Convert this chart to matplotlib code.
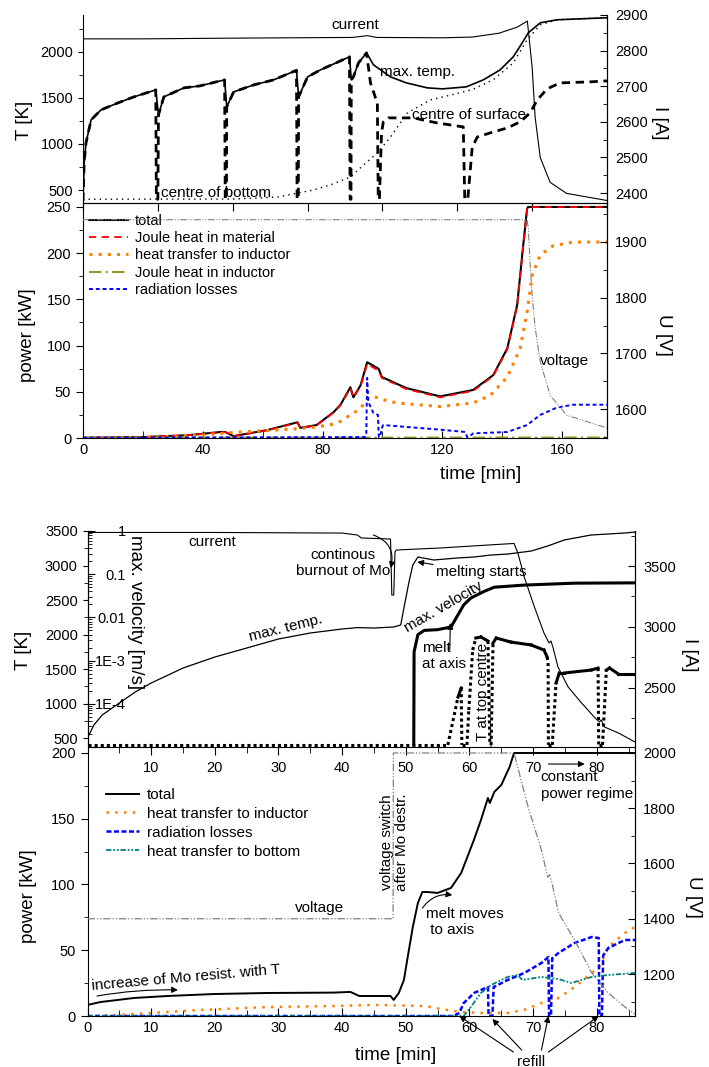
import matplotlib
matplotlib.use("Agg")
import matplotlib.pyplot as plt
import matplotlib.ticker as mticker
import numpy as np

plt.rcParams['font.family'] = ['Liberation Sans', 'DejaVu Sans']
plt.rcParams['font.size'] = 11

W, H = 709, 1067

# ---------------- upper figure: temperatures / current ----------------
t_cur1 = [0, 20, 50, 90, 95, 98, 120, 130, 139, 145, 148.4, 150, 151, 152.7, 156, 161.5, 175]
i_cur1 = [2833, 2833, 2835, 2837, 2842, 2837, 2836, 2838, 2849, 2866, 2883, 2753, 2613, 2500, 2430, 2399, 2379]

t_max1 = [0, 0.4, 1, 2.7, 6, 11.6, 17, 24.3, 25.2, 27, 33.7, 39, 47.3, 48, 50.3, 57, 63.7,
          71.3, 72, 75, 79.3, 89, 89.6, 90.3, 92, 94.7, 97, 102.7, 108, 115, 120, 128,
          133.7, 139.3, 143.7, 146.7, 148.7, 152.7, 158.3, 175]
T_max1 = [380, 800, 1011, 1261, 1370, 1445, 1511, 1587, 1315, 1511, 1609, 1630, 1696, 1402, 1565, 1641, 1696,
          1800, 1511, 1728, 1804, 1946, 1696, 1728, 1880, 1989, 1859, 1728, 1663, 1609, 1598, 1620,
          1696, 1804, 1946, 2098, 2206, 2315, 2348, 2370]

t_surf = [0, 0.4, 1, 2.7, 6, 11.6, 17, 24.3, 24.5, 25.0, 25.2, 27, 33.7, 39, 47.3, 47.5, 47.9, 48,
          50.3, 57, 63.7, 71.3, 71.5, 71.9, 72, 75, 79.3, 89, 89.2, 89.5, 89.6, 90.3, 92, 94.7,
          96, 97.7, 98.3, 98.6, 99.0, 99.7, 100.3, 102, 110.3, 118.3, 127, 127.5, 128.5, 130,
          131.7, 136, 141.7, 146, 149.3, 151.7, 155, 159.3, 169.3, 175]
T_surf = [380, 800, 1011, 1261, 1370, 1445, 1511, 1587, 400, 400, 1315, 1511, 1609, 1630, 1696, 400, 400, 1402,
          1565, 1641, 1696, 1800, 400, 400, 1511, 1728, 1804, 1946, 400, 400, 1696, 1728, 1880, 1989,
          1663, 1500, 1457, 400, 400, 1120, 1240, 1283, 1283, 1228, 1185, 400, 400, 967,
          1076, 1120, 1174, 1240, 1337, 1478, 1598, 1663, 1674, 1685]

t_bot = [0, 50, 60, 65, 71.7, 77, 83, 89.3, 93.7, 98.3, 102.7, 108.3, 116, 122.7, 130, 137,
         143.7, 148.3, 152.7, 158.3, 175]
T_bot = [400, 402, 415, 424, 467, 500, 560, 641, 772, 902, 1076, 1337, 1478, 1530, 1590, 1696,
         1880, 2130, 2293, 2348, 2372]

# ---------------- upper figure: power / voltage ----------------
t_tot1 = [0, 20, 35, 46, 47.5, 50.3, 61.6, 71.6, 72.6, 78, 83.7, 86, 89.3, 90.3, 92.7, 94.9,
          98.7, 99.8, 108, 119.3, 130.3, 137, 141.7, 145, 147, 148.3, 148.6, 175]
P_tot1 = [0.2, 1, 3, 6.5, 6.5, 2, 8.6, 17, 11, 14, 28, 36, 55, 44, 57, 82,
          75, 66, 54, 45, 52, 68, 97, 144, 208, 248, 250, 250]
P_joule1 = [0.2, 1, 3, 6.3, 6.3, 2, 8.4, 16.5, 10.8, 13.8, 27.5, 35.5, 54, 43.5, 56, 80,
            73, 65, 53, 44, 51, 67, 96, 143, 207, 247, 250, 250]

t_ind1 = [0, 20, 39, 50, 71.6, 78, 83.7, 86, 89.3, 92.7, 95, 97, 102.7, 108, 119.3, 130.3,
          136, 141.7, 146, 148.3, 150, 152.7, 157, 163.7, 175]
P_ind1 = [0, 0.5, 3, 6, 10, 12, 15, 18, 25, 32, 43, 45, 39, 37, 34, 38,
          46, 66, 97, 136, 176, 198, 208, 212, 212]

t_jind1 = [0, 100, 175]
P_jind1 = [0.3, 0.4, 0.5]

t_rad1 = [0, 94.3, 94.6, 94.9, 95.3, 97, 98.5, 98.8, 99.2, 99.8, 100.3, 108, 119.3, 127.7,
          128.3, 128.8, 130.3, 141.7, 148.3, 152.7, 158.3, 163.7, 175]
P_rad1 = [0.3, 1, 3, 65, 39, 27, 25, 1, 1, 11, 14, 12, 9, 6.5,
          1, 1, 5, 6.5, 14, 25, 33, 36, 36]

t_volt1 = [0, 148.3, 148.7, 149.3, 150, 151, 152.7, 156, 161.5, 175]
U_volt1 = [1940, 1940, 1925, 1864, 1805, 1746, 1685, 1625, 1589, 1566]

# ---------------- lower figure: temperatures / current / velocity ----------------
t_cur2 = [0, 20, 40, 42.4, 43, 47.6, 47.8, 48.1, 48.3, 48.5, 55.5, 67, 67.6, 68.6, 70.2,
          71.7, 72.5, 72.8, 73.1, 73.9, 75.5, 77.6, 79.6, 80.4, 80.7, 81.2, 83.4, 86]
I_cur2 = [3775, 3775, 3770, 3754, 3730, 3721, 3262, 3262, 3615, 3631, 3648, 3685, 3607, 3410, 3164,
          2951, 2869, 2885, 2836, 2672, 2508, 2377, 2262, 2221, 2238, 2180, 2131, 2057]

t_max2 = [0, 1, 2.3, 5, 7.5, 10, 15, 20, 25, 30, 35, 40, 42.4, 45, 48.1, 49.2, 49.7, 50.5,
          51.1, 51.9, 54.4, 58.1, 60.7, 63.4, 66, 69.7, 72.3, 74.9, 79.1, 84.4, 86]
T_max2 = [500, 688, 833, 1007, 1167, 1297, 1514, 1674, 1804, 1935, 2022, 2080, 2100, 2094, 2109, 2138, 2384, 2761,
          3007, 3123, 3080, 3109, 3123, 3152, 3166, 3210, 3283, 3370, 3442, 3471, 3485]

t_vel = [51.25, 51.3, 51.9, 52.9, 55, 57.1, 58.2, 59.1, 60.2, 62.3, 63.9, 68.6, 76.5, 86]
v_vel = [1.2e-5, 1.6e-3, 4.0e-3, 5.0e-3, 5.2e-3, 6.0e-3, 1.15e-2, 1.95e-2, 2.8e-2, 4.0e-2, 5.0e-2,
         5.6e-2, 6.2e-2, 6.3e-2]

t_top = [0, 56.6, 58.2, 58.7, 58.8, 59.6, 59.9, 60.5, 61.0, 61.8, 62.9, 63.2, 63.4, 63.7, 64.2,
         66.5, 69.7, 71.7, 72.2, 72.35, 72.4, 73.0, 73.6, 74.1, 74.9, 79.1, 80.2, 80.3, 80.9,
         81.5, 82.0, 83.4, 86]
T_top = [400, 400, 1094, 1225, 400, 400, 906, 1775, 1949, 1964, 1906, 400, 400, 1877, 1949,
         1891, 1848, 1775, 1674, 1587, 400, 400, 1297, 1442, 1442, 1485, 1514, 400, 400,
         1485, 1514, 1427, 1427]

# ---------------- lower figure: power / voltage ----------------
t_tot2 = [0, 2, 7.3, 12.5, 19.8, 28.3, 38.7, 41.3, 42.7, 47.6, 48.1, 48.9, 49.7, 50.3, 51.1, 51.9,
          52.6, 53.4, 55, 57.1, 58.7, 60.7, 61.8, 62.9, 63.2, 63.9, 65, 66.3, 67, 86]
P_tot2 = [8.4, 10.6, 13.7, 15.2, 16.7, 17.5, 17.8, 18.3, 15.2, 15.2, 12.2, 17.5, 27.4, 44.9, 67.7, 86,
          94.3, 94.3, 93.6, 97.4, 108.8, 133.9, 149, 165.8, 162, 170.4, 175.7, 189.4, 200, 200]

t_ind2 = [0, 3, 7.3, 17.7, 28.3, 38.7, 45, 53, 55.5, 58.7, 61.8, 66, 68.6, 71.3, 74, 76.5,
          79.2, 80.4, 81.8, 84.4, 86]
P_ind2 = [0, 0.3, 1.5, 4.6, 6.8, 7.6, 8.4, 7.6, 5.3, 3, 2.3, 2.3, 4.6, 9.9, 13.7, 22,
          32.7, 37.3, 52.5, 63.1, 67.7]

t_rad2 = [0, 57.5, 58.4, 59.1, 60, 60.7, 62.9, 63.0, 63.6, 63.8, 66, 68.6, 71.3, 72.4, 72.5,
          72.8, 73.0, 74, 76.5, 79.2, 80.3, 80.4, 80.8, 81.0, 81.8, 84.4, 86]
P_rad2 = [0, 0, 2.3, 9.9, 14, 17.5, 22, 0, 0, 22, 27.4, 32.7, 40.3, 44.9, 0,
          0, 44, 48, 55.5, 60.1, 59.3, 0, 0, 46, 51.7, 57.8, 57.8]

t_btm2 = [0, 59.1, 60.2, 61.8, 63.4, 66, 67.6, 68.3, 71.3, 74, 76, 79.2, 81.8, 86]
P_btm2 = [0, 0, 6.8, 17.5, 23.6, 29.7, 31.2, 27.4, 29.7, 28.1, 25.1, 29.7, 31.2, 32.7]

t_volt2 = [0, 48, 48.05, 67, 69.2, 71.3, 72.3, 72.6, 72.9, 74, 76.5, 79.2, 81.8, 84.4, 86]
U_volt2 = [1400, 1400, 2000, 2000, 1805, 1649, 1550, 1560, 1535, 1421, 1323, 1204, 1131, 1081, 1055]

ORANGE = "#ff8000"
OLIVE = "#999922"
TEAL = "#008080"
GREY = "#808080"
BLUE = "#0000ff"
RED = "#ff0000"


def box(left, top, right, bottom):
    return [left / W, 1 - bottom / H, (right - left) / W, (bottom - top) / H]


def left_ticks(ax, major, minor):
    ax.yaxis.set_major_locator(mticker.MultipleLocator(major))
    ax.yaxis.set_minor_locator(mticker.MultipleLocator(minor))
    ax.tick_params(axis='y', which='both', direction='out', labelsize=10.5)
    ax.tick_params(axis='y', which='major', length=5)
    ax.tick_params(axis='y', which='minor', length=3)


def right_ticks(ax, major, minor):
    ax.yaxis.set_major_locator(mticker.MultipleLocator(major))
    ax.yaxis.set_minor_locator(mticker.MultipleLocator(minor))
    ax.tick_params(axis='y', which='both', direction='in', labelsize=10.5, pad=6)
    ax.tick_params(axis='y', which='major', length=5)
    ax.tick_params(axis='y', which='minor', length=3)
    for s in ('top', 'bottom', 'left'):
        ax.spines[s].set_visible(False)


def ylab(ax, text, x, y, rot=90):
    ax.set_ylabel(text, fontsize=13.5, rotation=rot, ha='center', va='center')
    ax.yaxis.set_label_coords(x, y)


arrow = dict(arrowstyle='-|>', color='k', lw=0.8, mutation_scale=9, shrinkA=0, shrinkB=0)

fig = plt.figure(figsize=(W / 100, H / 100), dpi=100)

# ======== panel 1 ========
ax1 = fig.add_axes(box(83, 15, 607, 203))
ax1.set_xlim(0, 175)
ax1.set_ylim(359, 2400)
ax1.plot(t_max1, T_max1, color='k', lw=1.2)
ax1.plot(t_surf, T_surf, color='k', lw=2.0, ls=(0, (3, 2)))
ax1.plot(t_bot, T_bot, color='k', lw=1.0, ls=(0, (1, 3)))
ax1.set_yticks([500, 1000, 1500, 2000])
ax1.yaxis.set_minor_locator(mticker.MultipleLocator(250))
ax1.tick_params(axis='y', which='both', direction='out', labelsize=10.5)
ax1.tick_params(axis='y', which='minor', length=3)
ax1.xaxis.set_major_locator(mticker.MultipleLocator(25))
ax1.tick_params(axis='x', direction='out', length=6, labelbottom=False)
ax1.spines['top'].set_visible(False)
ylab(ax1, 'T [K]', -0.111, 0.441)
ax1.text(90.8, 2293, 'current', ha='center', va='center')
ax1.text(99.2, 1783, 'max. temp.', ha='left', va='center')
ax1.text(109.9, 1315, 'centre of surface', ha='left', va='center')
ax1.text(26.1, 467, 'centre of bottom', ha='left', va='center')

ax1r = ax1.twinx()
ax1r.plot(t_cur1, i_cur1, color='k', lw=0.8)
ax1r.set_ylim(2372, 2900)
right_ticks(ax1r, 100, 50)
ylab(ax1r, 'I [A]', 1.101, 0.426, rot=-90)

# ======== panel 2 ========
ax2 = fig.add_axes(box(83, 203, 607, 438))
ax2.set_facecolor('none')
ax2.set_xlim(0, 175)
ax2.set_ylim(0, 254.3)
ax2.plot(t_tot1, P_tot1, color='k', lw=1.5, label='total')
ax2.plot(t_tot1, P_joule1, color=RED, lw=1.3, ls=(0, (4, 3)), label='Joule heat in material')
ax2.plot(t_ind1, P_ind1, color=ORANGE, lw=2.2, ls=(0, (1, 2)), label='heat transfer to inductor')
ax2.plot(t_jind1, P_jind1, color=OLIVE, lw=1.5, ls=(0, (6, 2, 1, 2)), label='Joule heat in inductor')
ax2.plot(t_rad1, P_rad1, color=BLUE, lw=1.4, ls=(0, (2, 1.5)), label='radiation losses')
left_ticks(ax2, 50, 25)
ax2.xaxis.set_major_locator(mticker.MultipleLocator(40))
ax2.xaxis.set_minor_locator(mticker.MultipleLocator(20))
ax2.tick_params(axis='x', which='both', direction='in', length=5, labelsize=10.5)
ylab(ax2, 'power [kW]', -0.105, 0.438)
ax2.set_xlabel('time [min]', fontsize=13.5, va='center')
ax2.xaxis.set_label_coords(0.758, -0.157)
ax2.legend(loc='upper left', bbox_to_anchor=(0.0115, 0.953), frameon=False, fontsize=10.5,
           borderpad=0, borderaxespad=0, handlelength=2.7, handletextpad=0.45, labelspacing=0.22)
ax2.text(152.6, 83.3, 'voltage', ha='left', va='center')

ax2r = ax2.twinx()
ax2r.plot(t_volt1, U_volt1, color=GREY, lw=0.8, ls=(0, (6, 1.5, 1, 1.5, 1, 1.5)))
ax2r.set_ylim(1548, 1970)
right_ticks(ax2r, 100, 50)
ylab(ax2r, 'U [V]', 1.107, 0.438, rot=-90)

# ======== panel 3 ========
ax3 = fig.add_axes(box(87.5, 531, 635, 747))
ax3.set_xlim(0, 86)
ax3.set_ylim(370, 3500)
ax3.plot(t_max2, T_max2, color='k', lw=0.9)
t_arr = np.array(t_top)
T_arr = np.array(T_top)
for k in range(len(t_arr) - 1):
    slope = abs(T_arr[k + 1] - T_arr[k]) / (t_arr[k + 1] - t_arr[k])
    flat = slope < 300 and min(T_arr[k], T_arr[k + 1]) > 1000
    ax3.plot(t_arr[k:k + 2], T_arr[k:k + 2], color='k', lw=2.2,
             ls='-' if flat else (0, (1, 1)))
ax3.set_yticks([500, 1000, 1500, 2000, 2500, 3000, 3500])
ax3.yaxis.set_minor_locator(mticker.MultipleLocator(250))
ax3.tick_params(axis='y', which='both', direction='out', labelsize=10.5)
ax3.tick_params(axis='y', which='minor', length=3)
ax3.set_xticks(np.arange(10, 90, 10))
ax3.xaxis.set_minor_locator(mticker.MultipleLocator(5))
ax3.tick_params(axis='x', which='both', direction='out', labelsize=10.5, pad=4)
ax3.tick_params(axis='x', which='major', length=6)
ax3.tick_params(axis='x', which='minor', length=4)
ax3.spines['top'].set_visible(False)
ylab(ax3, 'T [K]', -0.116, 0.449)
ax3.text(19.6, 3341, 'current', ha='center', va='center')
ax3.text(40.2, 3036, 'continous\nburnout of Mo', ha='center', va='center', linespacing=1.1)
ax3.annotate('', xy=(47.6, 2964), xytext=(44.9, 3442),
             arrowprops=dict(arrow, connectionstyle='arc3,rad=-0.45'))
ax3.annotate('melting starts', xy=(51.8, 3051), xytext=(54.7, 2906), ha='left', va='center',
             arrowprops=arrow)
ax3.text(55.9, 2399, 'max. velocity', ha='center', va='center', rotation=30)
ax3.text(52.6, 1688, 'melt\nat axis', ha='left', va='center', linespacing=1.1)
ax3.annotate('', xy=(57.0, 2167), xytext=(56.9, 1775), arrowprops=arrow)
ax3.text(62.1, 1167, 'T at top centre', ha='center', va='center', rotation=90)
ax3.text(31.1, 2094, 'max. temp.', ha='center', va='center', rotation=14)

ax3v = ax3.twinx()
ax3v.plot(t_vel, v_vel, color='k', lw=2.2)
ax3v.set_yscale('log')
ax3v.set_ylim(1e-5, 1)
ax3v.spines['right'].set_position(('axes', 0.0))
for s in ('top', 'bottom', 'left'):
    ax3v.spines[s].set_visible(False)
ax3v.yaxis.set_major_locator(mticker.LogLocator(base=10, numticks=10))
ax3v.yaxis.set_minor_locator(mticker.LogLocator(base=10, subs=np.arange(2, 10), numticks=10))
vel_labels = {1: '1', 0.1: '0.1', 0.01: '0.01', 1e-3: '1E-3', 1e-4: '1E-4'}
ax3v.yaxis.set_major_formatter(mticker.FuncFormatter(
    lambda v, _: next((s for k, s in vel_labels.items() if abs(np.log10(v) - np.log10(k)) < 1e-6), '')))
ax3v.yaxis.set_minor_formatter(mticker.NullFormatter())
ax3v.tick_params(axis='y', which='both', direction='out', labelsize=10.5, pad=22.5)
ax3v.tick_params(axis='y', which='major', length=5)
ax3v.tick_params(axis='y', which='minor', length=3)
for lab in ax3v.get_yticklabels():
    lab.set_ha('right')
ax3.text(0.0868, 0.625, 'max. velocity [m/s]', transform=ax3.transAxes, rotation=-90,
         ha='center', va='center', fontsize=13.5)

ax3r = ax3.twinx()
ax3r.plot(t_cur2, I_cur2, color='k', lw=0.8)
ax3r.set_ylim(2016, 3787)
right_ticks(ax3r, 500, 250)
ylab(ax3r, 'I [A]', 1.100, 0.426, rot=-90)

# ======== panel 4 ========
ax4 = fig.add_axes(box(87.5, 748, 635, 1016))
ax4.set_facecolor('none')
ax4.set_xlim(0, 86)
ax4.set_ylim(0, 203.8)
ax4.plot(t_tot2, P_tot2, color='k', lw=1.4, label='total')
ax4.plot(t_ind2, P_ind2, color=ORANGE, lw=1.8, ls=(0, (1, 2.5)), label='heat transfer to inductor')
ax4.plot(t_rad2, P_rad2, color=BLUE, lw=1.8, ls=(0, (2, 1)), label='radiation losses')
ax4.plot(t_btm2, P_btm2, color=TEAL, lw=1.3, ls=(0, (3, 1, 1, 1, 1, 1)), label='heat transfer to bottom')
left_ticks(ax4, 50, 25)
ax4.xaxis.set_major_locator(mticker.MultipleLocator(10))
ax4.xaxis.set_minor_locator(mticker.MultipleLocator(5))
ax4.tick_params(axis='x', which='both', direction='in', labelsize=10.5)
ax4.tick_params(axis='x', which='major', length=6)
ax4.tick_params(axis='x', which='minor', length=4)
ax4.spines['top'].set_visible(False)
ylab(ax4, 'power [kW]', -0.107, 0.448)
ax4.set_xlabel('time [min]', fontsize=13.5, va='center')
ax4.xaxis.set_label_coords(0.562, -0.146)
ax4.legend(loc='upper left', bbox_to_anchor=(0.033, 0.851), frameon=False, fontsize=11,
           borderpad=0, borderaxespad=0, handlelength=2.2, handletextpad=0.5, labelspacing=0.32)
ax4.text(32.6, 82, 'voltage', ha='left', va='center')
ax4.text(15.5, 28.9, 'increase of Mo resist. with T', ha='center', va='center', rotation=5)
ax4.annotate('', xy=(14.2, 19.8), xytext=(1.5, 15.2),
             arrowprops=dict(arrow, connectionstyle='arc3,rad=-0.05'))
ax4.text(48.2, 132, 'voltage switch\nafter Mo destr.', ha='center', va='center', rotation=90,
         linespacing=1.1)
ax4.text(53.2, 71.5, 'melt moves\n to axis', ha='left', va='center', linespacing=1.25)
ax4.annotate('', xy=(57.3, 92), xytext=(52.6, 82),
             arrowprops=dict(arrow, connectionstyle='arc3,rad=-0.3'))
ax4.text(71.2, 175.0, 'constant\npower regime', ha='left', va='center', linespacing=1.25)
ax4.annotate('', xy=(78.1, 191.6), xytext=(72.4, 191.6), arrowprops=arrow)
ax4.text(69.6, -35, 'refill', ha='center', va='center', clip_on=False)
for tail, head in [((66.9, -27.4), (58.4, 0)), ((68.2, -25.9), (63.6, -2.3)),
                   ((71.3, -25.9), (72.4, 0)), ((72.4, -27.4), (80.3, 0))]:
    ax4.annotate('', xy=head, xytext=tail, arrowprops=arrow, annotation_clip=False)

ax4r = ax4.twinx()
ax4r.plot(t_volt2, U_volt2, color=GREY, lw=0.9, ls=(0, (6, 1.5, 1, 1.5, 1, 1.5)))
ax4r.set_ylim(1048, 2018)
right_ticks(ax4r, 200, 100)
ylab(ax4r, 'U [V]', 1.106, 0.444, rot=-90)

fig.savefig("out.png", dpi=100)
